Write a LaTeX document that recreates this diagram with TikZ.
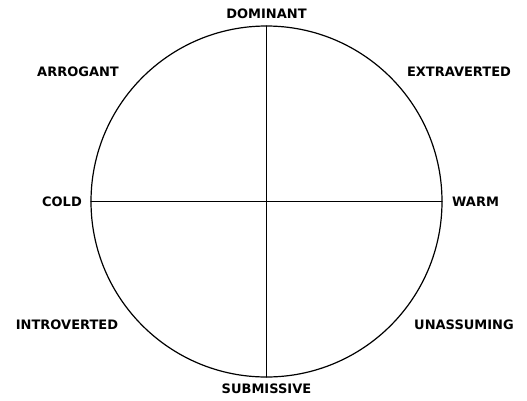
\documentclass[tikz,border=0pt]{standalone}
\usepackage{fontspec}
\setmainfont{DejaVu Sans}
\begin{document}
\begin{tikzpicture}[x=1pt,y=-1pt,line join=round,line cap=round,font=\fontsize{13}{15}\selectfont\bfseries,
	lbl/.style={inner sep=0pt}]
					\useasboundingbox (0,0) rectangle (527,400);
					\coordinate (O) at (266.5,201.5);
					\draw[line width=1.2pt] (O) circle (175.5);
					\coordinate (top) at (266.5,26);
					\coordinate (bot) at (266.5,377);
					\coordinate (lft) at (91,201.5);
					\coordinate (rgt) at (442,201.5);
					\draw[line width=1.2pt] (top) -- (bot);
					\draw[line width=1.2pt] (lft) -- (rgt);
					\node[lbl] (dom) at (266.5,14) {DOMINANT};
					\node[lbl] (sub) at (266.5,389) {SUBMISSIVE};
					\node[lbl,anchor=east] (cold) at (82,201.5) {COLD};
					\node[lbl,anchor=west] (warm) at (452,201.5) {WARM};
					\node[lbl] (arr) at (78,72) {ARROGANT};
					\node[lbl] (ext) at (459,72) {EXTRAVERTED};
					\node[lbl] (intro) at (67,325) {INTROVERTED};
					\node[lbl] (una) at (464,325) {UNASSUMING};
				\end{tikzpicture}
\end{document}
